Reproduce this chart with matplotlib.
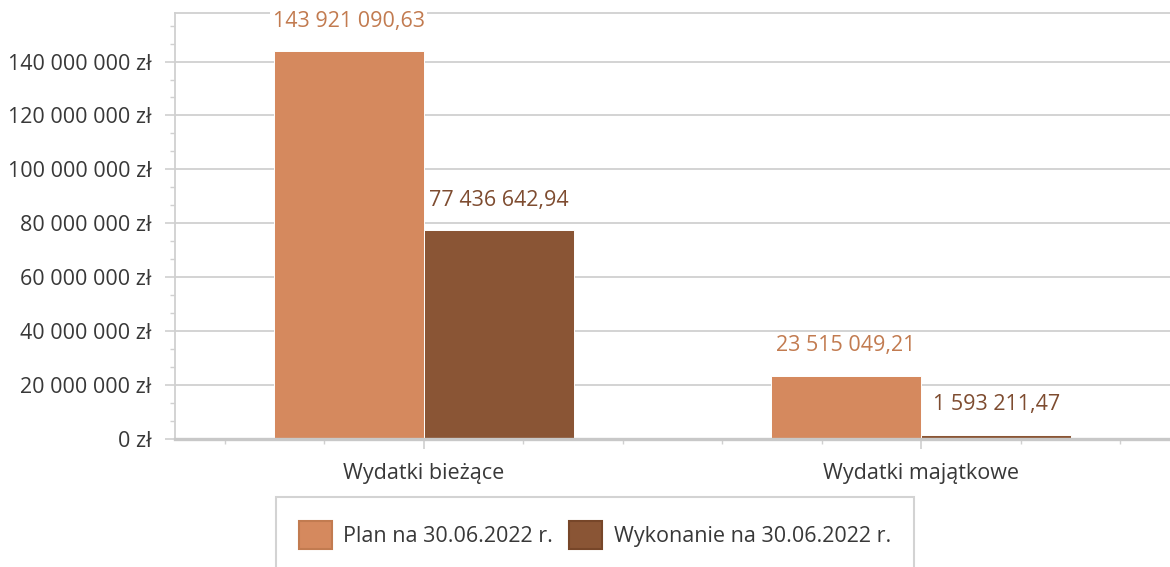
import matplotlib
matplotlib.use("Agg")
import matplotlib.pyplot as plt
from matplotlib.ticker import MultipleLocator, FixedLocator, FuncFormatter
from matplotlib.patches import Patch
import numpy as np

categories = ["Wydatki bieżące", "Wydatki majątkowe"]
series_names = ["Plan na 30.06.2022 r.", "Wykonanie na 30.06.2022 r."]
plan_values = [143921090.63, 23515049.21]
wykonanie_values = [77436642.94, 1593211.47]

bar_colors = ["#D5895E", "#8A5535"]
label_colors = ["#C27B50", "#7E4C30"]
edge_colors = ["#C27B50", "#774629"]
text_color = "#383838"
grid_color = "#D0D0D0"

plt.rcParams['font.family'] = ['Open Sans', 'DejaVu Sans']
FS = 15.5

fig = plt.figure(figsize=(11.7, 5.67), dpi=100)
ax = fig.add_axes([175/1170, 1-439/567, 1-175/1170, (439-13)/567])

x = np.arange(len(categories))
w = 0.302
series = [plan_values, wykonanie_values]
offsets = [-w/2, w/2]
for i, vals in enumerate(series):
    ax.bar(x + offsets[i], vals, width=w, color=bar_colors[i],
           edgecolor="white", linewidth=0.7, zorder=3, label=series_names[i])
    for xi, v in zip(x + offsets[i], vals):
        txt = f"{v:,.2f}".replace(",", " ").replace(".", ",")
        ax.annotate(txt, (xi, v), xytext=(0, 21.5), textcoords="offset points",
                    ha="center", va="center", fontsize=FS, color=label_colors[i],
                    bbox=dict(facecolor="white", edgecolor="none", pad=1.5),
                    annotation_clip=False, zorder=5)

ax.set_xlim(-0.5, 1.5)
ax.set_ylim(0, 158e6)

ax.yaxis.set_major_locator(MultipleLocator(20e6))
ax.yaxis.set_minor_locator(MultipleLocator(20e6/3))
ax.yaxis.set_major_formatter(FuncFormatter(lambda v, p: f"{int(round(v)):,}".replace(",", " ") + " zł"))
ax.set_xticks(x)
ax.set_xticklabels(categories)
ax.xaxis.set_minor_locator(FixedLocator([-0.4, -0.2, 0.2, 0.4, 0.6, 0.8, 1.2, 1.4]))

ax.grid(axis="y", which="major", color=grid_color, linewidth=1.3, zorder=0)
ax.set_axisbelow(True)

for s in ["left", "top"]:
    ax.spines[s].set_color(grid_color)
    ax.spines[s].set_linewidth(1.3)
ax.spines["right"].set_visible(False)
ax.spines["bottom"].set_color("#C8C8C8")
ax.spines["bottom"].set_linewidth(2.4)
ax.spines["bottom"].set_zorder(4)

ax.tick_params(axis="y", which="major", length=7, width=1.2, color=grid_color,
               labelsize=FS, labelcolor=text_color, pad=10)
ax.tick_params(axis="y", which="minor", length=3.5, width=1.0, color=grid_color)
ax.tick_params(axis="x", which="major", length=7, width=1.2, color=grid_color,
               labelsize=FS, labelcolor=text_color, pad=10)
ax.tick_params(axis="x", which="minor", length=3.5, width=1.0, color=grid_color)

handles = [Patch(facecolor=bar_colors[i], edgecolor=edge_colors[i], linewidth=1.5,
                 label=series_names[i]) for i in range(2)]
leg = fig.legend(handles=handles, loc="upper center", bbox_to_anchor=(595/1170, 1-497/567),
                 ncol=2, fontsize=FS, frameon=True, fancybox=False, borderpad=1.1,
                 handlelength=1.5, handleheight=1.65, handletextpad=0.55,
                 columnspacing=0.75, borderaxespad=0, labelcolor=text_color)
leg.get_frame().set_edgecolor("#C8C8C8")
leg.get_frame().set_linewidth(1.5)

fig.savefig("out.png", dpi=100)
